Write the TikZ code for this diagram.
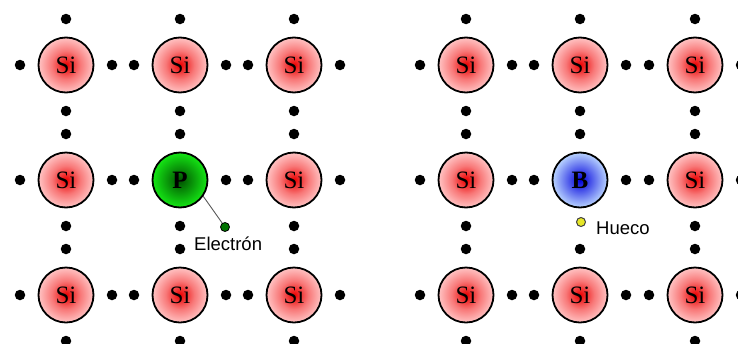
\documentclass[tikz,border=0pt]{standalone}
\usepackage{fontspec}
\setmainfont{Liberation Serif}
\newfontfamily\labelfont{Liberation Sans}

\definecolor{siinner}{RGB}{235,0,0}
\definecolor{simid}{RGB}{248,120,120}
\definecolor{siouter}{RGB}{255,195,195}
\definecolor{pinner}{RGB}{0,80,0}
\definecolor{pouter}{RGB}{20,230,20}
\definecolor{binner}{RGB}{0,0,220}
\definecolor{bouter}{RGB}{185,212,255}
\definecolor{holeyellow}{RGB}{230,230,40}

\pgfdeclareradialshading{siball}{\pgfpoint{0bp}{0bp}}{color(0bp)=(siinner); color(13bp)=(simid); color(25bp)=(siouter); color(50bp)=(siouter)}
\pgfdeclareradialshading{pball}{\pgfpoint{0bp}{0bp}}{color(0bp)=(pinner); color(25bp)=(pouter); color(50bp)=(pouter)}
\pgfdeclareradialshading{bball}{\pgfpoint{0bp}{0bp}}{color(0bp)=(binner); color(25bp)=(bouter); color(50bp)=(bouter)}

\begin{document}
\begin{tikzpicture} [
                x=1pt, y=-1pt,
                atom/.style = {circle,draw=black,line width=1.8pt,minimum size=55pt,inner sep=0pt,
                               font=\fontsize{25}{25}\selectfont},
                si atom/.style = {atom, shading=siball},
                p atom/.style = {atom, shading=pball, font=\fontsize{25}{25}\selectfont\bfseries},
                b atom/.style = {atom, shading=bball, font=\fontsize{25}{25}\selectfont\bfseries},
                valence/.style = {circle,fill=black,minimum size=10.5pt,inner sep=0pt},
                free electron/.style = {circle,fill=green!45!black,draw=black,line width=0.8pt,minimum size=9pt,inner sep=0pt},
                hole/.style = {circle,fill=holeyellow,draw=black!75,line width=1pt,minimum size=9pt,inner sep=0pt},
                tag/.style = {font=\labelfont\fontsize{18.5}{18.5}\selectfont,inner sep=0pt,anchor=west}
            ]
            \useasboundingbox (0,0) rectangle (738,343);
            % First we draw the silicon atoms of both lattices
            \foreach \name/\pos in {
                a1/{(66,65)}, b1/{(180,65)}, c1/{(294,65)},
                a2/{(66,180)}, c2/{(294,180)},
                a3/{(66,295)}, b3/{(180,295)}, c3/{(294,295)},
                d1/{(466,65)}, e1/{(580,65)}, f1/{(695,65)},
                d2/{(466,180)}, f2/{(695,180)},
                d3/{(466,295)}, e3/{(580,295)}, f3/{(695,295)}}
                \node[si atom] (\name) at \pos {Si};
            % the impurities
            \node[p atom] (b2) at (180,180) {P};
            \node[b atom] (e2) at (580,180) {B};
            % valence electrons round every atom
            \foreach \name in {a1,b1,c1,a2,b2,c2,a3,b3,c3,d1,e1,f1,d2,f2,d3,e3,f3} {
                \node[valence] (\name-w) at ([xshift=-46pt]\name) {};
                \node[valence] (\name-e) at ([xshift=46pt]\name) {};
                \node[valence] (\name-n) at ([yshift=46pt]\name) {};
                \node[valence] (\name-s) at ([yshift=-46pt]\name) {};
            }
            % boron has one bond short: a hole in place of the lower electron
            \node[valence] (e2-w) at ([xshift=-46pt]e2) {};
            \node[valence] (e2-e) at ([xshift=46pt]e2) {};
            \node[valence] (e2-n) at ([yshift=46pt]e2) {};
            \node[hole] (hueco) at ([xshift=1pt,yshift=-42pt]e2) {};
            \node[tag] (hueco label) at (596,228) {Hueco};
            % the extra electron of phosphorus
            \node[free electron] (electron) at (225,227) {};
            \draw[black!65,line width=0.9pt] (b2.-35) -- (electron);
            \node[tag] (electron label) at (194,244) {Electrón};
        \end{tikzpicture}
\end{document}
